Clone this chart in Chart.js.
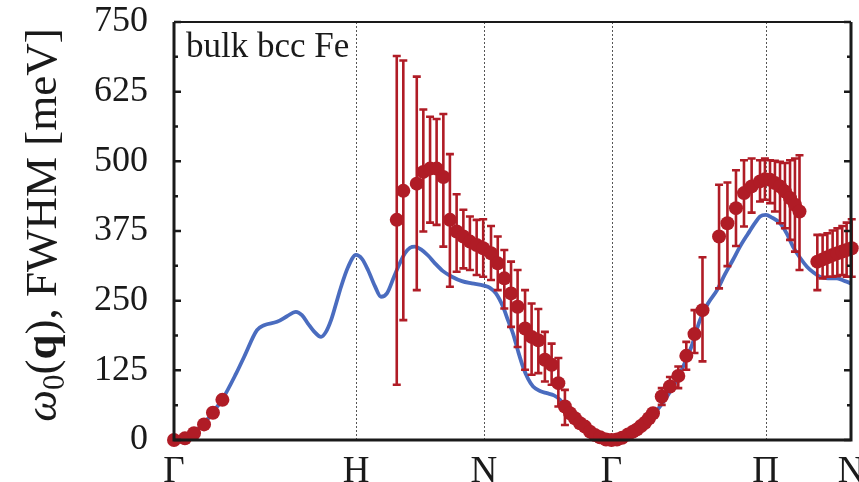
<!DOCTYPE html>
<html><head><meta charset="utf-8">
<script src="https://cdn.jsdelivr.net/npm/chart.js@4/dist/chart.umd.min.js"></script>
<style>html,body{margin:0;padding:0;background:#fff;}#wrap{width:859px;height:482px;}</style>
</head><body><div id="wrap"><canvas id="c" width="859" height="482"></canvas></div>
<script>
// high-symmetry path positions and labels
const pathTicks = [0, 1.000, 1.703, 2.404, 3.251, 3.720];
const pathLabels = ['Γ', 'H', 'N', 'Γ', 'Π', 'N'];
const yTickValues = [0, 125, 250, 375, 500, 625, 750];

// theory curve omega_0(q)
const theoryX = [0,0.055,0.110,0.165,0.214,0.264,0.341,0.385,0.456,0.495,0.566,0.621,0.670,0.703,0.736,0.769,0.808,0.835,0.863,0.890,0.918,0.956,1.000,1.033,1.066,1.104,1.137,1.170,1.209,1.242,1.269,1.297,1.324,1.357,1.396,1.434,1.478,1.527,1.582,1.637,1.703,1.736,1.769,1.808,1.835,1.863,1.890,1.918,1.945,1.973,2.011,2.049,2.088,2.121,2.154,2.187,2.231,2.286,2.341,2.404,2.451,2.505,2.560,2.615,2.670,2.736,2.797,2.846,2.890,2.934,2.984,3.027,3.071,3.110,3.154,3.192,3.220,3.253,3.286,3.330,3.368,3.401,3.440,3.478,3.516,3.549,3.593,3.643,3.687,3.720];
const theoryY = [0,4,14,30,50,72,119,149,197,206,212,222,230,224,209,195,185,194,215,244,275,310,332,325,305,276,257,263,293,318,335,345,347,342,331,317,303,293,285,281,277,273,263,239,215,191,160,131,110,96,88,84,80,72,58,45,32,17,6,0,3,10,22,40,60,92,131,170,215,245,269,297,323,347,370,389,401,404,399,389,370,347,327,311,300,293,290,290,285,281];

// experimental peaks (FWHM) with error bars
const exptX = [0,0.060,0.110,0.165,0.214,0.266,
  1.224,1.260,1.334,1.370,1.407,1.443,1.480,1.516,1.553,1.590,1.626,1.663,1.699,1.742,1.779,1.815,1.852,1.888,1.929,1.965,2.002,2.038,2.075,2.112,2.148,
  2.176,2.203,2.231,2.258,2.286,2.313,2.341,2.374,2.404,2.434,2.462,2.495,2.522,2.544,2.566,2.588,2.610,2.632,
  2.680,2.725,2.771,2.815,2.860,2.904,2.995,3.041,3.088,3.132,3.174,3.220,3.247,3.275,3.302,3.330,3.357,3.385,3.412,3.437,
  3.535,3.564,3.590,3.619,3.645,3.672,3.696,3.724];
const exptY = [0,3,12,28,49,72,
  395,447,460,481,487,487,472,395,374,365,356,350,344,335,317,290,263,239,200,185,179,144,135,102,60,
  48,39,30,24,15,9,5,1,0,1,4,10,15,19,25,31,39,48,
  78,96,115,151,190,233,365,389,416,443,455,464,468,467,461,455,446,434,422,410,
  320,324,328,332,335,338,341,344];
const exptHigh = [null,null,null,null,null,null,
  689,681,652,593,580,576,585,513,441,413,401,395,396,384,365,341,320,305,269,245,235,194,173,147,90,
  null,null,null,null,null,null,null,null,null,null,null,null,null,null,null,null,null,null,
  93,113,132,176,233,328,458,462,484,502,505,502,505,502,501,499,497,502,505,511,
  368,368,371,376,380,384,390,396];
const exptLow = [null,null,null,null,null,null,
  99,215,269,374,390,386,347,275,302,308,305,296,293,287,269,236,203,167,126,117,120,105,99,60,27,
  null,null,null,null,null,null,null,null,null,null,null,null,null,null,null,null,null,null,
  63,90,93,126,156,141,272,312,348,383,408,428,431,425,410,389,380,359,338,305,
  269,290,293,293,294,296,293,293];

const RED = '#b01c26';
const BLUE = '#4a6cbf';
const SERIF = '"Liberation Serif", "DejaVu Serif", serif';

const errorBars = {
  id: 'errorBars',
  afterDatasetDraw(chart, args) {
    if (args.index !== 1) return;
    const {ctx} = chart;
    const xs = chart.scales.x, ys = chart.scales.y;
    ctx.save();
    ctx.strokeStyle = RED;
    ctx.lineWidth = 2.6;
    for (let i = 0; i < exptX.length; i++) {
      if (exptHigh[i] == null) continue;
      const px = xs.getPixelForValue(exptX[i]);
      const pt = ys.getPixelForValue(exptHigh[i]);
      const pb = ys.getPixelForValue(exptLow[i]);
      ctx.beginPath();
      ctx.moveTo(px, pt); ctx.lineTo(px, pb);
      ctx.moveTo(px - 4, pt); ctx.lineTo(px + 4, pt);
      ctx.moveTo(px - 4, pb); ctx.lineTo(px + 4, pb);
      ctx.stroke();
    }
    ctx.restore();
  }
};

const frame = {
  id: 'frame',
  beforeDatasetsDraw(chart) {
    const {ctx, chartArea: a} = chart;
    const xs = chart.scales.x;
    ctx.save();
    ctx.strokeStyle = '#555';
    ctx.lineWidth = 1;
    ctx.setLineDash([2, 2]);
    for (let i = 1; i < pathTicks.length - 1; i++) {
      const px = Math.round(xs.getPixelForValue(pathTicks[i])) + 0.5;
      ctx.beginPath(); ctx.moveTo(px, a.top); ctx.lineTo(px, a.bottom); ctx.stroke();
    }
    ctx.restore();
  },
  afterDraw(chart) {
    const {ctx, chartArea: a} = chart;
    const ys = chart.scales.y;
    ctx.save();
    ctx.strokeStyle = '#1a1a1a';
    ctx.lineWidth = 2.5;
    for (let i = 0; i < yTickValues.length; i++) {
      const py = ys.getPixelForValue(yTickValues[i]);
      ctx.beginPath();
      ctx.moveTo(a.left, py); ctx.lineTo(a.left + 7, py);
      ctx.moveTo(a.right, py); ctx.lineTo(a.right - 7, py);
      ctx.stroke();
      if (i < yTickValues.length - 1) {
        const pm = ys.getPixelForValue((yTickValues[i] + yTickValues[i + 1]) / 2);
        ctx.beginPath();
        ctx.moveTo(a.left, pm); ctx.lineTo(a.left + 4, pm);
        ctx.moveTo(a.right, pm); ctx.lineTo(a.right - 4, pm);
        ctx.stroke();
      }
    }
    ctx.lineWidth = 3;
    ctx.beginPath();
    ctx.moveTo(a.left, a.top); ctx.lineTo(a.left, a.bottom); ctx.lineTo(a.right, a.bottom); ctx.lineTo(a.right, a.top);
    ctx.stroke();
    ctx.lineWidth = 2;
    ctx.beginPath(); ctx.moveTo(a.left, a.top); ctx.lineTo(a.right, a.top); ctx.stroke();

    ctx.fillStyle = '#1a1a1a';
    ctx.font = '35px ' + SERIF;
    ctx.textBaseline = 'alphabetic';
    ctx.textAlign = 'left';
    ctx.fillText('bulk bcc Fe', a.left + 12, a.top + 35);

    const fs = 45;
    const parts = [
      {t: 'ω', f: 'italic ' + fs + 'px ' + SERIF, dy: 0},
      {t: '0', f: Math.round(fs * 0.7) + 'px ' + SERIF, dy: 8},
      {t: '(', f: fs + 'px ' + SERIF, dy: 0},
      {t: 'q', f: 'bold ' + fs + 'px ' + SERIF, dy: 0},
      {t: '), FWHM [meV]', f: fs + 'px ' + SERIF, dy: 0}
    ];
    let total = 0;
    parts.forEach(p => { ctx.font = p.f; p.w = ctx.measureText(p.t).width; total += p.w; });
    ctx.translate(56, 225);
    ctx.rotate(-Math.PI / 2);
    let x = -total / 2;
    parts.forEach(p => { ctx.font = p.f; ctx.fillText(p.t, x, p.dy); x += p.w; });
    ctx.restore();
  }
};

function noPad(scale) {
  scale.paddingLeft = 0; scale.paddingRight = 0; scale.paddingTop = 0; scale.paddingBottom = 0;
}

new Chart(document.getElementById('c'), {
  type: 'scatter',
  data: {
    datasets: [
      {
        label: 'FWHM',
        data: exptX.map((x, i) => ({x, y: exptY[i]})),
        backgroundColor: RED,
        borderWidth: 0,
        pointRadius: 7,
        clip: false
      },
      {
        type: 'line',
        label: 'omega0',
        data: theoryX.map((x, i) => ({x, y: theoryY[i]})),
        borderColor: BLUE,
        borderWidth: 3.8,
        pointRadius: 0,
        fill: false,
        cubicInterpolationMode: 'monotone',
        clip: false
      }
    ]
  },
  options: {
    responsive: false,
    animation: false,
    events: [],
    layout: {padding: {left: 0, right: 8, top: 22, bottom: 0}},
    plugins: {legend: {display: false}, tooltip: {enabled: false}},
    scales: {
      x: {
        type: 'linear', min: 0, max: 3.720,
        afterBuildTicks(scale) { scale.ticks = pathTicks.map(v => ({value: v})); },
        afterFit(scale) { scale.height = 42; noPad(scale); },
        grid: {display: false, drawTicks: false},
        border: {display: false},
        ticks: {
          autoSkip: false, maxRotation: 0, padding: 10,
          color: '#1a1a1a',
          font: {family: SERIF, size: 37},
          callback: (v, i) => pathLabels[i]
        }
      },
      y: {
        min: 0, max: 750,
        afterBuildTicks(scale) { scale.ticks = yTickValues.map(v => ({value: v})); },
        afterFit(scale) { scale.width = 174; noPad(scale); },
        grid: {display: false, drawTicks: false},
        border: {display: false},
        ticks: {
          padding: 26,
          color: '#1a1a1a',
          font: {family: SERIF, size: 36}
        }
      }
    }
  },
  plugins: [frame, errorBars]
});
</script>
</body></html>
